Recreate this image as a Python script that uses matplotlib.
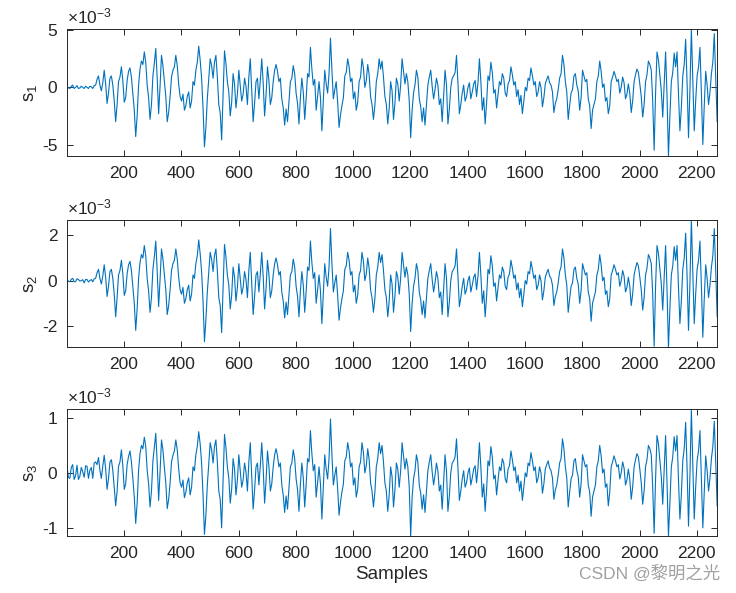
import numpy as np
import matplotlib
matplotlib.use("Agg")
import matplotlib.pyplot as plt

plt.rcParams['font.family'] = ['Liberation Sans', 'Noto Sans CJK SC']
plt.rcParams['mathtext.fontset'] = 'custom'
plt.rcParams['mathtext.rm'] = 'Liberation Sans'
plt.rcParams['mathtext.it'] = 'Liberation Sans:italic'
plt.rcParams['axes.unicode_minus'] = False

# valores en unidades de 1e-3, una muestra cada 5
samples = np.arange(1, 2272, 5)

s1 = [0.1, -0.05, -0.1, 0.1, 0.2, -0.1, 0.0, 0.15, -0.1, -0.05, 0.1, 0.0, -0.1, 0.1, 0.0, -0.1, 0.1, 0.05, -0.1, 0.15,
      0.2, 0.7, 1.0, 0.2, -0.3, 0.4, 1.5, 0.3, -1.4, -0.5, 0.8, 1.0, 0.2, -1.2, -3.0, -1.5, 0.5, 0.9, 1.8, 0.6,
      -1.3, -0.9, 0.6, 1.4, 1.7, 0.9, -0.5, -2.0, -4.3, -2.5, 0.2, 1.6, 2.3, 2.0, 3.1, 2.2, 0.2, -0.9, -2.8, -1.5,
      1.0, 2.1, 3.4, 0.8, -2.3, 0.1, 2.8, 1.9, 0.5, -0.8, -3.0, -2.2, -0.8, 0.9, 1.5, 1.8, 2.8, 1.9, 0.3, -0.8,
      -1.2, -0.6, -2.0, -1.6, -0.8, -0.4, -1.8, -1.2, 0.5, 0.2, 1.5, 2.2, 3.6, 2.4, 0.8, -1.8, -5.2, -3.5, -1.0, 0.8,
      2.5, 1.9, 0.8, 2.2, 2.8, 0.9, -1.5, -2.2, -4.6, -0.8, 3.2, 2.1, 0.5, -0.4, -2.5, -1.3, 1.2, 0.3, -1.8, -0.6,
      1.5, 0.2, -1.2, -0.6, 0.8, 0.1, -1.5, 0.9, 2.5, -0.3, -3.0, -1.4, 0.5, 0.8, -1.0, 0.6, 2.5, 0.4, -2.5, -0.7,
      1.8, 0.6, -1.5, -0.9, 0.5, 1.5, 2.0, 1.4, 0.5, 0.8, -1.0, -1.8, -3.3, -1.9, -3.0, -1.2, 0.5, 0.8, 1.9, 1.2,
      -0.5, -1.4, -3.2, -0.9, 0.8, -0.4, -2.8, -1.0, 1.2, 0.9, 3.5, 1.6, 0.2, 0.7, -2.0, -0.8, 0.5, -0.9, -3.8, -1.1,
      1.5, 0.3, -0.5, 1.2, 4.3, 1.5, -1.0, -0.2, 0.5, -1.3, -3.5, -2.4, -1.6, -0.9, 1.0, 1.3, 2.5, 1.8, 0.5, 0.8,
      -1.0, -0.4, -2.0, -1.3, 0.5, 0.9, 2.5, 1.7, 0.0, 0.6, 2.0, 1.1, -0.8, -1.5, -2.8, -1.6, 0.5, 1.2, 2.5, 1.6,
      2.3, 0.9, -0.8, -1.5, -3.2, -1.8, 0.5, -0.3, -2.8, -1.4, 0.8, 0.3, -1.2, 0.2, 2.5, 1.4, 0.3, 1.2, 0.5, -1.2,
      -4.4, -2.0, -0.5, 0.2, 1.5, 0.9, -1.0, -1.7, -3.0, -1.8, -3.3, -1.6, 0.2, 0.9, 1.5, 0.1, -1.0, -0.2, 0.8, 0.2,
      -1.5, -1.0, -3.0, -0.8, 1.5, 0.2, -3.2, -1.9, 0.0, 0.8, 1.0, 1.3, 2.8, 0.4, -2.3, -1.5, -0.5, 0.2, -1.2, -0.8,
      0.0, 0.4, -1.0, -0.4, 0.3, 0.6, -0.8, 0.4, 2.5, 0.5, -2.0, -0.9, -3.2, -1.4, 1.0, 0.6, 2.2, 1.3, -0.5, -0.2,
      -1.8, -0.6, 0.5, 0.2, 1.2, 0.8, -0.5, -0.8, 0.3, 0.6, 1.8, 1.1, 0.2, 0.5, -0.8, -0.2, -1.5, -0.7, -2.3, -1.2,
      0.0, -0.3, 0.8, 0.6, 1.7, 1.0, 0.2, 0.5, -0.8, -0.4, 0.5, 0.0, -1.7, -0.9, 0.3, 0.7, 1.0, 0.4, 0.2, -0.4,
      -2.2, -1.4, -1.0, -0.2, 0.8, 1.2, 2.8, 2.0, 0.5, -0.4, -2.8, -1.6, -0.5, -0.2, 1.0, 1.2, 0.2, -0.3, -2.0, -0.9,
      1.5, 1.0, 0.5, 0.7, -1.0, -1.6, -3.6, -2.0, -1.5, -1.0, 0.5, 1.0, 2.3, 1.4, 0.0, 0.3, -1.2, -0.9, -2.3, -1.6,
      0.5, 0.9, 1.4, 1.0, 0.5, 0.7, -0.5, 0.0, 0.9, 0.4, -1.0, -0.6, 0.3, -0.5, -2.2, -1.2, 0.5, 1.1, 1.6, 1.3,
      0.3, -0.8, -2.6, -1.5, 0.5, 1.1, 2.3, 2.0, 1.5, -1.2, -5.5, -0.5, 3.1, 2.4, 1.0, -0.3, -2.6, 0.2, 3.1, -0.8,
      -6.0, -2.5, 0.5, 1.3, 3.0, 1.8, 3.1, -0.6, -3.8, -1.8, 1.0, 2.0, 4.2, 0.4, -4.4, -0.2, 5.1, 0.8, -3.8, -1.2,
      1.0, 1.8, 3.5, -0.5, -5.0, -1.6, 1.4, 0.2, -1.5, -0.4, 1.2, 2.2, 4.7, 0.9, -3.0]

s2 = [0.05, -0.03, -0.05, 0.06, 0.1, -0.05, -0.05, 0.08, 0.05, -0.02, 0.0, 0.04, -0.1, 0.05, 0.05, -0.06, 0.0, 0.05, -0.05, 0.08,
      0.1, 0.35, 0.5, 0.1, -0.15, 0.2, 0.7, 0.15, -0.7, -0.25, 0.4, 0.5, 0.1, -0.6, -1.6, -0.75, 0.25, 0.45, 0.9, 0.3,
      -0.65, -0.45, 0.3, 0.7, 0.85, 0.45, -0.25, -1.0, -2.2, -1.25, 0.1, 0.8, 1.15, 1.0, 1.55, 1.1, 0.1, -0.45, -1.4, -0.75,
      0.5, 1.05, 1.75, 0.4, -1.15, 0.05, 1.4, 0.95, 0.25, -0.4, -1.5, -1.1, -0.4, 0.45, 0.75, 0.9, 1.4, 0.95, 0.15, -0.4,
      -0.6, -0.3, -1.0, -0.8, -0.4, -0.2, -0.9, -0.6, 0.25, 0.1, 0.75, 1.1, 1.8, 1.2, 0.4, -0.9, -2.7, -1.75, -0.5, 0.4,
      1.25, 0.95, 0.4, 1.1, 1.4, 0.45, -0.75, -1.1, -2.3, -0.4, 1.6, 1.05, 0.25, -0.2, -1.25, -0.65, 0.6, 0.15, -0.9, -0.3,
      0.75, 0.1, -0.6, -0.3, 0.4, 0.05, -0.75, 0.45, 1.25, -0.15, -1.5, -0.7, 0.25, 0.4, -0.5, 0.3, 1.25, 0.2, -1.25, -0.35,
      0.9, 0.3, -0.75, -0.45, 0.25, 0.75, 1.0, 0.7, 0.25, 0.4, -0.5, -0.9, -1.65, -0.95, -1.5, -0.6, 0.25, 0.4, 0.95, 0.6,
      -0.25, -0.7, -1.6, -0.45, 0.4, -0.2, -1.4, -0.5, 0.6, 0.45, 1.75, 0.8, 0.1, 0.35, -1.0, -0.4, 0.25, -0.45, -1.9, -0.55,
      0.75, 0.15, -0.25, 0.6, 2.3, 0.75, -0.5, -0.1, 0.25, -0.65, -1.75, -1.2, -0.8, -0.45, 0.5, 0.65, 1.25, 0.9, 0.25, 0.4,
      -0.5, -0.2, -1.0, -0.65, 0.25, 0.45, 1.25, 0.85, 0.0, 0.3, 1.0, 0.55, -0.4, -0.75, -1.4, -0.8, 0.25, 0.6, 1.25, 0.8,
      1.15, 0.45, -0.4, -0.75, -1.6, -0.9, 0.25, -0.15, -1.4, -0.7, 0.4, 0.15, -0.6, 0.1, 1.25, 0.7, 0.15, 0.6, 0.25, -0.6,
      -2.25, -1.0, -0.25, 0.1, 0.75, 0.45, -0.5, -0.85, -1.5, -0.9, -1.65, -0.8, 0.1, 0.45, 0.75, 0.05, -0.5, -0.1, 0.4, 0.1,
      -0.75, -0.5, -1.5, -0.4, 0.75, 0.1, -1.6, -0.95, 0.0, 0.4, 0.5, 0.65, 1.4, 0.2, -1.15, -0.75, -0.25, 0.1, -0.6, -0.4,
      0.0, 0.2, -0.5, -0.2, 0.15, 0.3, -0.4, 0.2, 1.25, 0.25, -1.0, -0.45, -1.6, -0.7, 0.5, 0.3, 1.1, 0.65, -0.25, -0.1,
      -0.9, -0.3, 0.25, 0.1, 0.6, 0.4, -0.25, -0.4, 0.15, 0.3, 0.9, 0.55, 0.1, 0.25, -0.4, -0.1, -0.75, -0.35, -1.15, -0.6,
      0.0, -0.15, 0.4, 0.3, 0.85, 0.5, 0.1, 0.25, -0.4, -0.2, 0.25, 0.0, -0.85, -0.45, 0.15, 0.35, 0.5, 0.2, 0.1, -0.2,
      -1.1, -0.7, -0.5, -0.1, 0.4, 0.6, 1.4, 1.0, 0.25, -0.2, -1.4, -0.8, -0.25, -0.1, 0.5, 0.6, 0.1, -0.15, -1.0, -0.45,
      0.75, 0.5, 0.25, 0.35, -0.5, -0.8, -1.8, -1.0, -0.75, -0.5, 0.25, 0.5, 1.15, 0.7, 0.0, 0.15, -0.6, -0.45, -1.15, -0.8,
      0.25, 0.45, 0.7, 0.5, 0.25, 0.35, -0.25, 0.0, 0.45, 0.2, -0.5, -0.3, 0.15, -0.25, -1.1, -0.6, 0.25, 0.55, 0.8, 0.65,
      0.15, -0.4, -1.3, -0.75, 0.25, 0.55, 1.15, 1.0, 0.75, -0.6, -2.9, -0.25, 1.55, 1.2, 0.5, -0.15, -1.3, 0.1, 1.55, -0.4,
      -3.0, -1.25, 0.25, 0.65, 1.5, 0.9, 1.55, -0.3, -1.9, -0.9, 0.5, 1.0, 2.1, 0.2, -2.2, -0.1, 2.7, 0.4, -1.9, -0.6,
      0.5, 0.9, 1.75, -0.25, -2.5, -0.8, 0.7, 0.1, -0.75, -0.2, 0.6, 1.1, 2.3, 0.45, -1.6]

s3 = [0.12, -0.08, -0.1, 0.1, 0.15, -0.12, -0.05, 0.14, -0.12, -0.06, 0.1, 0.02, -0.08, 0.13, 0.12, -0.1, 0.05, 0.1, -0.1, 0.18,
      0.2, 0.15, 0.28, 0.05, -0.1, 0.12, 0.32, 0.08, -0.3, -0.1, 0.2, 0.24, 0.05, -0.26, -0.6, -0.33, 0.12, 0.2, 0.42, 0.13,
      -0.3, -0.2, 0.15, 0.3, 0.4, 0.2, -0.1, -0.44, -0.92, -0.55, 0.05, 0.35, 0.5, 0.44, 0.65, 0.48, 0.05, -0.2, -0.62, -0.33,
      0.22, 0.46, 0.72, 0.18, -0.5, 0.02, 0.6, 0.42, 0.1, -0.18, -0.65, -0.48, -0.18, 0.2, 0.32, 0.4, 0.6, 0.42, 0.07, -0.18,
      -0.26, -0.13, -0.45, -0.35, -0.18, -0.09, -0.4, -0.26, 0.11, 0.04, 0.33, 0.48, 0.75, 0.53, 0.18, -0.4, -1.12, -0.77, -0.22, 0.18,
      0.55, 0.42, 0.18, 0.48, 0.6, 0.2, -0.33, -0.48, -1.0, -0.18, 0.7, 0.46, 0.11, -0.09, -0.55, -0.29, 0.26, 0.07, -0.4, -0.13,
      0.33, 0.04, -0.26, -0.13, 0.18, 0.02, -0.33, 0.2, 0.55, -0.07, -0.66, -0.31, 0.11, 0.18, -0.22, 0.13, 0.55, 0.09, -0.55, -0.15,
      0.4, 0.13, -0.33, -0.2, 0.11, 0.33, 0.44, 0.31, 0.11, 0.18, -0.22, -0.4, -0.72, -0.42, -0.66, -0.26, 0.11, 0.18, 0.42, 0.26,
      -0.11, -0.31, -0.7, -0.2, 0.18, -0.09, -0.62, -0.22, 0.26, 0.2, 0.77, 0.35, 0.04, 0.15, -0.44, -0.18, 0.11, -0.2, -0.84, -0.24,
      0.33, 0.07, -0.11, 0.26, 0.98, 0.33, -0.22, -0.04, 0.11, -0.29, -0.77, -0.53, -0.35, -0.2, 0.22, 0.29, 0.55, 0.4, 0.11, 0.18,
      -0.22, -0.09, -0.44, -0.29, 0.11, 0.2, 0.55, 0.37, 0.0, 0.13, 0.44, 0.24, -0.18, -0.33, -0.62, -0.35, 0.11, 0.26, 0.55, 0.35,
      0.5, 0.2, -0.18, -0.33, -0.7, -0.4, 0.11, -0.07, -0.62, -0.31, 0.18, 0.07, -0.26, 0.04, 0.55, 0.31, 0.07, 0.26, 0.11, -0.26,
      -1.15, -0.44, -0.11, 0.04, 0.33, 0.2, -0.22, -0.37, -0.66, -0.4, -0.72, -0.35, 0.04, 0.2, 0.33, 0.02, -0.22, -0.04, 0.18, 0.04,
      -0.33, -0.22, -0.66, -0.18, 0.33, 0.04, -0.7, -0.42, 0.0, 0.18, 0.22, 0.29, 0.62, 0.09, -0.5, -0.33, -0.11, 0.04, -0.26, -0.18,
      0.0, 0.09, -0.22, -0.09, 0.07, 0.13, -0.18, 0.09, 0.55, 0.11, -0.44, -0.2, -0.7, -0.31, 0.22, 0.13, 0.48, 0.29, -0.11, -0.04,
      -0.4, -0.13, 0.11, 0.04, 0.26, 0.18, -0.11, -0.18, 0.07, 0.13, 0.4, 0.24, 0.04, 0.11, -0.18, -0.04, -0.33, -0.15, -0.5, -0.26,
      0.0, -0.07, 0.18, 0.13, 0.37, 0.22, 0.04, 0.11, -0.18, -0.09, 0.11, 0.0, -0.37, -0.2, 0.07, 0.15, 0.22, 0.09, 0.04, -0.09,
      -0.48, -0.31, -0.22, -0.04, 0.18, 0.26, 0.62, 0.44, 0.11, -0.09, -0.62, -0.35, -0.11, -0.04, 0.22, 0.26, 0.04, -0.07, -0.44, -0.2,
      0.33, 0.22, 0.11, 0.15, -0.22, -0.35, -0.79, -0.44, -0.33, -0.22, 0.11, 0.22, 0.5, 0.31, 0.0, 0.07, -0.26, -0.2, -0.6, -0.35,
      0.11, 0.2, 0.31, 0.22, 0.11, 0.15, -0.11, 0.0, 0.2, 0.09, -0.22, -0.13, 0.07, -0.11, -0.48, -0.26, 0.11, 0.24, 0.35, 0.29,
      0.07, -0.18, -0.57, -0.33, 0.11, 0.24, 0.5, 0.44, 0.33, -0.26, -1.1, -0.11, 0.68, 0.53, 0.22, -0.07, -0.57, 0.04, 0.68, -0.18,
      -1.15, -0.55, 0.11, 0.29, 0.66, 0.4, 0.68, -0.13, -0.84, -0.4, 0.22, 0.44, 0.92, 0.09, -0.97, -0.04, 1.15, 0.18, -0.84, -0.26,
      0.22, 0.4, 0.77, -0.11, -1.0, -0.35, 0.31, 0.04, -0.33, -0.09, 0.26, 0.48, 0.94, 0.2, -0.6]

series = [s1, s2, s3]
ylabels = ['s$_{1}$', 's$_{2}$', 's$_{3}$']
ylims = [(-6.0, 5.1), (-2.93, 2.68), (-1.15, 1.16)]
yticks = [[-5, 0, 5], [-2, 0, 2], [-1, 0, 1]]
xticks = list(range(200, 2201, 200))

line_color = '#0072BD'
axis_color = '#262626'

fig = plt.figure(figsize=(7.36, 5.93), dpi=100)
bottoms = [0.737, 0.415, 0.096]

for k in range(3):
    ax = fig.add_axes([0.091, bottoms[k], 0.883, 0.214])
    ax.plot(samples, series[k], color=line_color, linewidth=0.8)
    ax.set_xlim(1, 2270)
    ax.set_ylim(*ylims[k])
    ax.set_xticks(xticks)
    ax.set_yticks(yticks[k])
    ax.tick_params(direction='in', top=True, right=True, length=4, pad=7,
                   labelsize=12.5, colors=axis_color, width=0.7)
    for sp in ax.spines.values():
        sp.set_color(axis_color)
        sp.set_linewidth(0.7)
    ax.set_ylabel(ylabels[k], fontsize=13.5, color=axis_color, labelpad=2)
    ax.text(0.0, 1.02, '\u00d710$^{-3}$', transform=ax.transAxes,
            ha='left', va='bottom', fontsize=12.5, color=axis_color)
    if k == 2:
        ax.set_xlabel('Samples', fontsize=13.5, color=axis_color, labelpad=4)

fig.text(0.978, 0.018, 'CSDN @黎明之光', ha='right', va='bottom',
         fontsize=12.5, color='#a0a0a0',
         family=['Liberation Sans', 'Noto Sans CJK SC'])

fig.savefig('out.png', dpi=100)
